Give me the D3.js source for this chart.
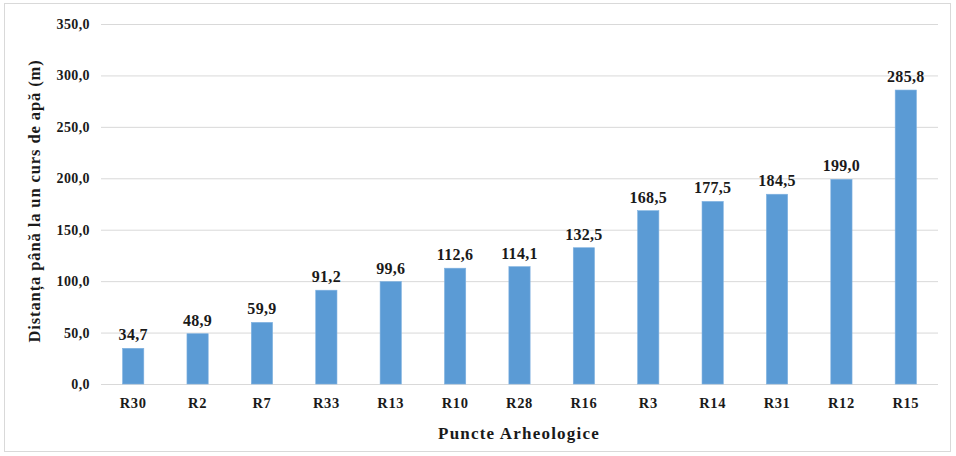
<!DOCTYPE html>
<html><head><meta charset="utf-8">
<script src="https://cdn.jsdelivr.net/npm/d3@7"></script>
<style>body{margin:0;background:#fff}svg{display:block}</style>
</head><body><svg id="c" width="956" height="456"></svg>
<script>
const categories = ["R30","R2","R7","R33","R13","R10","R28","R16","R3","R14","R31","R12","R15"];
const values = [34.7,48.9,59.9,91.2,99.6,112.6,114.1,132.5,168.5,177.5,184.5,199.0,285.8];
const yTicks = [0,50,100,150,200,250,300,350];
const yTitle = "Distanța până la un curs de apă (m)";
const xTitle = "Puncte Arheologice";
const FONT = "'Liberation Serif', 'Times New Roman', serif";

const svg = d3.select("#c").attr("font-family",FONT).attr("font-weight","bold");
svg.append("rect").attr("x",4.5).attr("y",3.5).attr("width",946).attr("height",448).attr("fill","#fff").attr("stroke","#d9d9d9");
const L=101, R=938, T=24, B=384;
const x = d3.scaleBand().domain(categories).range([L,R]).paddingInner(0.67).paddingOuter(0.335);
const y = d3.scaleLinear().domain([0,350]).range([B,T]);
const fmt = v => d3.format(".1f")(v).replace(".",",");

svg.append("g").selectAll("line").data(yTicks).join("line")
  .attr("x1",L).attr("x2",R).attr("y1",d=>y(d)+0.5).attr("y2",d=>y(d)+0.5)
  .attr("stroke","#d9d9d9").attr("stroke-width",1);

const ya = svg.append("g").attr("transform",`translate(${L},0)`)
  .call(d3.axisLeft(y).tickValues(yTicks).tickFormat(fmt).tickSize(0).tickPadding(11));
ya.attr("font-family",FONT).attr("font-size",14).attr("font-weight","bold");
ya.select(".domain").remove();
ya.selectAll("text").attr("fill","#1a1a1a").attr("letter-spacing",0.4);

const xa = svg.append("g").attr("transform",`translate(0,${B})`)
  .call(d3.axisBottom(x).tickSize(0).tickPadding(14));
xa.attr("font-family",FONT).attr("font-size",14.5).attr("font-weight","bold");
xa.select(".domain").remove();
xa.selectAll("text").attr("fill","#1a1a1a").attr("letter-spacing",0.6);

svg.append("g").selectAll("rect").data(values).join("rect")
  .attr("x",(d,i)=>x(categories[i])).attr("width",x.bandwidth())
  .attr("y",d=>y(d)).attr("height",d=>B-y(d))
  .attr("fill","#5b9bd5").attr("stroke","#7fb1e0").attr("stroke-width",0.6);

svg.append("g").attr("font-size",16).attr("fill","#1a1a1a").selectAll("text").data(values).join("text")
  .attr("x",(d,i)=>x(categories[i])+x.bandwidth()/2).attr("y",d=>y(d)-8)
  .attr("text-anchor","middle").attr("letter-spacing",0.3).text(fmt);

svg.append("text").attr("transform","translate(40,201) rotate(-90)").attr("fill","#1a1a1a")
  .attr("text-anchor","middle").attr("font-size",16.5).attr("letter-spacing",0.9).text(yTitle);
svg.append("text").attr("x",519).attr("y",439).attr("fill","#1a1a1a").attr("text-anchor","middle").attr("font-size",17).attr("letter-spacing",1.2).text(xTitle);
</script></body></html>
